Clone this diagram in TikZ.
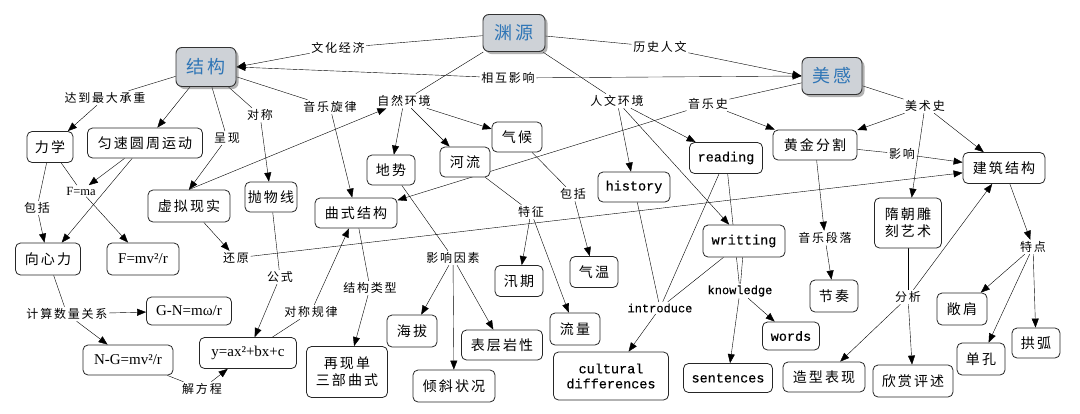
\documentclass[tikz,border=0pt]{standalone}
\usepackage{fontspec}
\setmainfont{Noto Sans CJK SC}[LetterSpace=15]
\setmonofont{Liberation Mono}[FakeBold=0.2]
\newfontfamily\formfont{Liberation Serif}
\usetikzlibrary{arrows.meta,backgrounds,shadows}
\definecolor{mainblue}{RGB}{46,117,182}
\definecolor{maingray}{RGB}{206,210,215}
\newcommand\mainfs{\fontsize{18}{20}\selectfont}
\newcommand\boxfs{\fontsize{14}{17}\selectfont}
\newcommand\linkfs{\fontsize{12}{14}\selectfont}
\newcommand\engfs{\fontsize{13.5}{15}\selectfont\ttfamily}
\newcommand\formfs{\fontsize{15}{17}\selectfont\formfont}

\begin{document}
\begin{tikzpicture}[x=1pt,y=-1pt,
    main/.style={rectangle, rounded corners=6pt, draw=black!80, line width=.9pt, fill=maingray, text=mainblue, font=\mainfs,
        drop shadow={shadow xshift=2.5pt, shadow yshift=-2.5pt, fill=black!60}},
    concept/.style={rectangle, rounded corners=5pt, draw=black!85, line width=.8pt, fill=white, font=\boxfs, inner sep=1pt, align=center},
    link/.style={font=\linkfs, inner sep=1.5pt},
    arr/.style={-{Triangle[length=9pt,width=7pt]}}]

    \useasboundingbox (0,0) rectangle (1080,413);

    % main concepts
    \node[main, minimum width=62pt, minimum height=37pt] (yy) at (514,33) {渊源};
    \node[main, minimum width=60pt, minimum height=39pt] (jg) at (206,67) {结构};
    \node[main, minimum width=60pt, minimum height=37pt] (mg) at (832,76) {美感};

    % linking phrases
    \node[link] (wh) at (338,48) {文化经济}; \node[link] (ls) at (660,47) {历史人文}; \node[link] (xh) at (508,78) {相互影响};
    \node[link] (dd) at (105,98) {达到最大承重}; \node[link] (dc) at (260,115) {对称}; \node[link] (yl) at (330,107) {音乐旋律};
    \node[link] (zr) at (404,101) {自然环境}; \node[link] (rw) at (617,101) {人文环境}; \node[link] (yys) at (708,104) {音乐史};
    \node[link] (mss) at (925,106) {美术史}; \node[link] (cx) at (227,138) {呈现}; \node[link, font=\fontsize{12.5}{14}\selectfont\formfont] (fma) at (81,191) {F=ma};
    \node[link] (bk1) at (37,208) {包括}; \node[link] (hy) at (236,258) {还原}; \node[link] (gs) at (280,277) {公式};
    \node[link] (dcgl) at (311,312) {对称规律}; \node[link] (jglx) at (370,288) {结构类型}; \node[link] (yxys) at (453,258) {影响因素};
    \node[link] (tz) at (531,212) {特征}; \node[link] (bk2) at (573,194) {包括}; \node[link] (js) at (67,314) {计算数量关系};
    \node[link] (jfc) at (202,389) {解方程}; \node[link, font=\fontsize{12}{14}\selectfont\ttfamily] (intro) at (660,308) {introduce};
    \node[link, font=\fontsize{12}{14}\selectfont\ttfamily] (know) at (740,291) {knowledge};
    \node[link] (yyd) at (825,238) {音乐段落}; \node[link] (yx) at (902,154) {影响}; \node[link] (td) at (1033,247) {特点}; \node[link] (fx) at (908,297) {分析};

    % concepts
    \node[concept, minimum width=46pt, minimum height=31pt] (lx) at (50,147) {力学};
    \node[concept, minimum width=115pt, minimum height=30pt] (yz) at (145,143) {匀速圆周运动};
    \node[concept, minimum width=65pt, minimum height=32pt] (xxl) at (48,259) {向心力};
    \node[concept, minimum width=72pt, minimum height=32pt, font=\formfs] (fmv) at (143,259) {F=mv²/r};
    \node[concept, minimum width=82pt, minimum height=32pt] (xn) at (189,206) {虚拟现实};
    \node[concept, minimum width=52pt, minimum height=30pt] (pwx) at (271,197) {抛物线};
    \node[concept, minimum width=82pt, minimum height=30pt] (qs) at (356,213) {曲式结构};
    \node[concept, minimum width=48pt, minimum height=30pt] (ds) at (391,170) {地势};
    \node[concept, minimum width=50pt, minimum height=30pt] (hl) at (465,162) {河流};
    \node[concept, minimum width=50pt, minimum height=30pt] (qh) at (517,137) {气候};
    \node[concept, minimum width=72pt, minimum height=30pt, font=\engfs] (hist) at (634,187) {history};
    \node[concept, minimum width=73pt, minimum height=31pt, font=\engfs] (read) at (726,158) {reading};
    \node[concept, minimum width=84pt, minimum height=30pt] (hj) at (815,145) {黄金分割};
    \node[concept, minimum width=82pt, minimum height=31pt] (jz) at (1004,168) {建筑结构};
    \node[concept, minimum width=82pt, minimum height=32pt, font=\engfs] (writ) at (744,241) {writting};
    \node[concept, minimum width=67pt, minimum height=50pt] (sc) at (908,223) {隋朝雕\\刻艺术};
    \node[concept, minimum width=48pt, minimum height=31pt] (xq) at (519,281) {汛期};
    \node[concept, minimum width=48pt, minimum height=31pt] (qw) at (594,272) {气温};
    \node[concept, minimum width=50pt, minimum height=32pt] (hb) at (412,331) {海拔};
    \node[concept, minimum width=81pt, minimum height=30pt] (bc) at (502,345) {表层岩性};
    \node[concept, minimum width=82pt, minimum height=32pt] (qx) at (454,386) {倾斜状况};
    \node[concept, minimum width=50pt, minimum height=32pt] (ll) at (575,329) {流量};
    \node[concept, minimum width=115pt, minimum height=48pt, font=\engfs] (cd) at (611,376) {cultural\\differences};
    \node[concept, minimum width=89pt, minimum height=29pt, font=\engfs] (sent) at (728,378) {sentences};
    \node[concept, minimum width=57pt, minimum height=28pt, font=\engfs] (words) at (791,336) {words};
    \node[concept, minimum width=48pt, minimum height=32pt] (jzou) at (834,296) {节奏};
    \node[concept, minimum width=82pt, minimum height=30pt] (zxbx) at (824,377) {造型表现};
    \node[concept, minimum width=80pt, minimum height=32pt] (xs) at (913,381) {欣赏评述};
    \node[concept, minimum width=50pt, minimum height=32pt] (cj) at (962,309) {敞肩};
    \node[concept, minimum width=48pt, minimum height=32pt] (dk) at (981,359) {单孔};
    \node[concept, minimum width=48pt, minimum height=30pt] (gh) at (1036,343) {拱弧};
    \node[concept, minimum width=85pt, minimum height=28pt, font=\formfs] (gn) at (189,311) {G-N=mω/r};
    \node[concept, minimum width=90pt, minimum height=30pt, font=\formfs] (ng) at (128,360) {N-G=mv²/r};
    \node[concept, minimum width=97pt, minimum height=31pt, font=\formfs] (yax) at (248,353) {y=ax²+bx+c};
    \node[concept, minimum width=81pt, minimum height=51pt] (zxq) at (347,372) {再现单\\三部曲式};

    \begin{scope}[on background layer, line width=.7pt, black!85]
        \draw (yy) -- (wh); \draw[arr] (wh) -- (jg.east);
        \draw (yy) -- (ls); \draw[arr] (ls) -- (mg.west);
        \draw[arr] (xh) -- (jg.east); \draw[arr] (xh) -- (mg.west);
        \draw (yy) -- (zr); \draw (yy) -- (rw);

        \draw (jg) -- (dd); \draw[arr] (dd) -- (lx);
        \draw[arr] (jg) -- (yz);
        \draw (jg) -- (cx); \draw[arr] (cx) -- (xn.north);
        \draw (jg) -- (dc); \draw[arr] (dc) -- (pwx);
        \draw (jg) -- (yl); \draw[arr] (yl) -- (qs);

        \draw[arr] (zr) -- (ds); \draw[arr] (zr) -- (hl); \draw[arr] (zr) -- (qh);
        \draw[arr] (xn.north) -- (zr);
        \draw[arr] (rw) -- (hist); \draw[arr] (rw) -- (read); \draw[arr] (rw) -- (writ);

        \draw (mg) -- (yys); \draw[arr] (yys) -- (hj); \draw[arr] (yys) -- (qs);
        \draw (mg) -- (mss); \draw[arr] (mss) -- (hj); \draw[arr] (mss) -- (sc); \draw[arr] (mss) -- (jz);
        \draw (hj) -- (yx); \draw[arr] (yx) -- (jz);
        \draw[arr] (hj) -- (yyd); \draw[arr] (yyd) -- (jzou);
        \draw[arr] (jz) -- (td); \draw[arr] (td) -- (cj); \draw[arr] (td) -- (dk); \draw[arr] (td) -- (gh);
        \draw (sc) -- (fx); \draw[arr] (fx) -- (zxbx); \draw[arr] (fx) -- (xs); \draw[arr] (fx) -- (jz);

        \draw[arr] (xn) -- (hy); \draw[arr] (hy) -- (jz);
        \draw (pwx) -- (gs); \draw[arr] (gs) -- (yax);
        \draw (yax) -- (dcgl); \draw[arr] (dcgl) -- (qs);
        \draw (qs) -- (jglx); \draw[arr] (jglx) -- (zxq);

        \draw (ds) -- (yxys); \draw[arr] (yxys) -- (hb); \draw[arr] (yxys) -- (qx); \draw[arr] (yxys) -- (bc);
        \draw (hl) -- (tz); \draw[arr] (tz) -- (xq); \draw[arr] (tz) -- (ll);
        \draw (qh) -- (bk2); \draw[arr] (bk2) -- (qw);

        \draw (hist) -- (intro); \draw (read) -- (intro); \draw (writ) -- (intro); \draw[arr] (intro) -- (cd);
        \draw (read) -- (know); \draw (writ) -- (know); \draw[arr] (know) -- (sent); \draw[arr] (know) -- (words);

        \draw (lx) -- (fma); \draw[arr] (fma) -- (fmv);
        \draw (lx) -- (bk1); \draw[arr] (bk1) -- (xxl);
        \draw[arr] (yz) -- (fma); \draw[arr] (yz) -- (xxl);
        \draw (xxl) -- (js); \draw[arr] (js) -- (gn); \draw[arr] (js) -- (ng);
        \draw (ng) -- (jfc); \draw[arr] (jfc) -- (yax);
    \end{scope}

\end{tikzpicture}
\end{document}
